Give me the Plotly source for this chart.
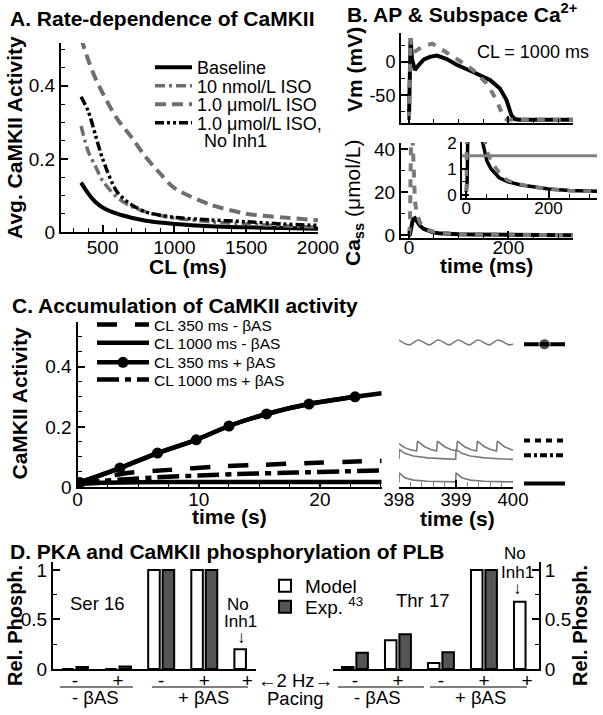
import plotly.graph_objects as go

# ======================= DATA =======================
# Panel A : rate dependence of average CaMKII activity
cl_ms = [350, 400, 450, 500, 600, 700, 800, 900, 1000, 1250, 1500, 1750, 2000]
act_baseline = [0.135, 0.105, 0.082, 0.067, 0.050, 0.039, 0.031, 0.026, 0.022, 0.016, 0.013, 0.011, 0.009]
act_iso_10n = [0.29, 0.22, 0.18, 0.14, 0.095, 0.07, 0.055, 0.045, 0.038, 0.028, 0.022, 0.017, 0.013]
act_iso_1u = [0.53, 0.47, 0.42, 0.38, 0.31, 0.26, 0.205, 0.16, 0.12, 0.075, 0.05, 0.04, 0.032]
act_iso_1u_noinh1 = [0.37, 0.33, 0.265, 0.20, 0.11, 0.075, 0.055, 0.046, 0.04, 0.033, 0.028, 0.022, 0.018]
names_a = ["Baseline", "10 nmol/L ISO", "1.0 μmol/L ISO", "1.0 μmol/L ISO,"]
name_a_line2 = " No Inh1"

# Panel B : AP and subspace Ca (CL = 1000 ms)
t_vm_base = [0, 2, 3.3, 6, 12, 20, 30, 42, 56, 75, 96, 129, 163, 183, 196, 206, 213, 222, 330]
vm_base = [-87, 0, 36, 5, -12, -4, 4, 8, 10, 5, -4, -15, -27, -40, -57, -80, -86, -87, -87]
t_vm_iso = [0, 2, 3.3, 6, 10, 20, 32, 47, 70, 96, 129, 156, 176, 190, 197, 330]
vm_iso = [-87, 0, 36, 22, 15, 20, 25, 28, 18, 5, -12, -32, -57, -83, -87, -87]
t_ca = [0, 2, 5, 8, 12, 16, 22, 30, 40, 50, 60, 80, 100, 130, 160, 200, 250, 330]
ca_base = [0.1, 0.5, 4, 7.5, 8, 6.5, 4.5, 3, 2, 1.3, 1.0, 0.65, 0.5, 0.38, 0.3, 0.22, 0.16, 0.12]
ca_iso = [0.1, 5, 60, 35, 16, 10, 6, 3.8, 2.4, 1.7, 1.3, 0.85, 0.55, 0.4, 0.3, 0.22, 0.16, 0.12]
inset_level = 1.5
cl_label = "CL = 1000 ms"

# Panel C : accumulation of CaMKII activity
t_350_plus = [0, 0.2, 3.5, 6.6, 9.8, 12.5, 15.6, 19.1, 22.9, 25.1]
act_350_plus = [0.012, 0.015, 0.063, 0.113, 0.157, 0.203, 0.243, 0.276, 0.300, 0.312]
t_350_minus = [0, 1, 2, 4, 7.6, 11.5, 15.3, 19.2, 23, 25.1]
act_350_minus = [0.012, 0.022, 0.031, 0.046, 0.057, 0.068, 0.074, 0.080, 0.085, 0.087]
t_1000_plus = [0, 2, 4, 7, 10, 14, 18, 22, 25.1]
act_1000_plus = [0.012, 0.02, 0.026, 0.033, 0.038, 0.044, 0.048, 0.052, 0.055]
t_1000_minus = [0, 2, 5, 10, 15, 20, 25.1]
act_1000_minus = [0.010, 0.014, 0.016, 0.017, 0.017, 0.017, 0.017]
names_c = ["CL 350 ms - βAS", "CL 1000 ms - βAS", "CL 350 ms + βAS", "CL 1000 ms + βAS"]

t_ss_350_plus = [398.00, 398.18, 398.34, 398.53, 398.69, 398.88, 399.04, 399.23, 399.39, 399.58, 399.74, 399.93, 400.00]
act_ss_350_plus = [0.489, 0.473, 0.489, 0.473, 0.489, 0.473, 0.489, 0.473, 0.489, 0.473, 0.489, 0.473, 0.476]
t_ss_350_minus = [398.00, 398.10, 398.20, 398.31, 398.325, 398.45, 398.56, 398.66, 398.675, 398.80, 398.91,
                  399.01, 399.025, 399.15, 399.26, 399.36, 399.375, 399.50, 399.61, 399.71, 399.725, 399.85, 400.00]
act_ss_350_minus = [0.144, 0.131, 0.124, 0.120, 0.153, 0.134, 0.125, 0.120, 0.153, 0.134, 0.125,
                    0.120, 0.153, 0.134, 0.125, 0.120, 0.153, 0.134, 0.125, 0.120, 0.153, 0.134, 0.122]
t_ss_1000 = [398.00, 398.005, 398.10, 398.25, 398.50, 398.75, 398.995, 399.00, 399.10, 399.25, 399.50, 399.75, 400.00]
act_ss_1000_plus = [0.093, 0.125, 0.112, 0.103, 0.097, 0.094, 0.092, 0.125, 0.112, 0.103, 0.097, 0.094, 0.092]
act_ss_1000_minus = [0.015, 0.047, 0.031, 0.023, 0.019, 0.018, 0.017, 0.047, 0.031, 0.023, 0.019, 0.018, 0.017]
# steady-state key levels: 350+, 350-, 1000+, 1000-
ss_levels = [0.475, 0.155, 0.106, 0.012]

# Panel D : PLB phosphorylation
cat_pos = [0, 1, 2, 3, 4]
pacing_labels = ["-", "+", "-", "+", "+"]
ser16_model = [0.0, 0.0, 1.0, 1.0, 0.2]
ser16_exp = [0.02, 0.025, 1.0, 1.0, None]
thr17_model = [0.02, 0.29, 0.06, 1.0, 0.68]
thr17_exp = [0.165, 0.35, 0.17, 1.0, None]

# ======================= HELPERS =======================
W, H = 603, 715
FONT = "Liberation Sans, Arial, sans-serif"
GRAY = "#6e6e6e"
GRAYB = "#7a7a7a"
EXPC = "#555555"


def px(x):
    return x / W


def py(y):
    return 1 - y / H


def ax(**kw):
    d = dict(showline=True, linecolor="black", linewidth=2, ticks="inside", ticklen=7,
             tickwidth=1.5, tickcolor="black", showgrid=False, zeroline=False, automargin=False,
             tickfont=dict(size=19, family=FONT, color="black"))
    d.update(kw)
    return d


def minor(dt, ln=4):
    return dict(ticks="inside", ticklen=ln, tickwidth=1, tickcolor="black", dtick=dt, tick0=0, showgrid=False)


fig = go.Figure()

# ---------------- Panel A ----------------
a_series = [act_baseline, act_iso_10n, act_iso_1u, act_iso_1u_noinh1]
a_lines = [dict(color="black", width=4),
           dict(color=GRAY, width=3.5, dash="10px,4px,3px,4px"),
           dict(color=GRAY, width=4, dash="11px,6px"),
           dict(color="black", width=3.5, dash="9px,3px,3px,3px,3px,3px")]
for i, (ys, nm, ln) in enumerate(zip(a_series, names_a, a_lines)):
    fig.add_trace(go.Scatter(x=cl_ms, y=ys, name=nm, mode="lines",
                             line=dict(shape="spline", smoothing=0.8, **ln),
                             xaxis="x", yaxis="y", legend="legend" if i == 0 else f"legend{i+1}"))

# ---------------- Panel B ----------------
fig.add_trace(go.Scatter(x=t_vm_base, y=vm_base, mode="lines", line=dict(color="black", width=4),
                         xaxis="x2", yaxis="y2", showlegend=False))
fig.add_trace(go.Scatter(x=t_vm_iso, y=vm_iso, mode="lines", line=dict(color=GRAYB, width=4, dash="8px,8px"),
                         xaxis="x2", yaxis="y2", showlegend=False))
for xa, ya, w in [("x3", "y3", 4), ("x4", "y4", 3.5)]:
    fig.add_trace(go.Scatter(x=t_ca, y=ca_base, mode="lines", line=dict(color="black", width=w),
                             xaxis=xa, yaxis=ya, showlegend=False))
    fig.add_trace(go.Scatter(x=t_ca, y=ca_iso, mode="lines", line=dict(color=GRAYB, width=w, dash="8px,8px"),
                             xaxis=xa, yaxis=ya, showlegend=False))

# ---------------- Panel C ----------------
c_specs = [
    (t_350_minus, act_350_minus, dict(color="black", width=4.5, dash="20px,18px")),
    (t_1000_minus, act_1000_minus, dict(color="black", width=4.5)),
    (t_350_plus, act_350_plus, dict(color="black", width=4.5)),
    (t_1000_plus, act_1000_plus, dict(color="black", width=4.5, dash="22px,6px,6px,6px")),
]
for i, (tx, ys, ln) in enumerate(c_specs):
    fig.add_trace(go.Scatter(x=tx, y=ys, mode="lines", line=dict(shape="spline", smoothing=0.6, **ln),
                             xaxis="x5", yaxis="y5", showlegend=False))
    if i == 2:
        fig.add_trace(go.Scatter(x=tx[1:-1], y=ys[1:-1], name=names_c[i], mode="lines+markers",
                                 line=dict(shape="spline", smoothing=0.6, **ln),
                                 marker=dict(size=11, color="black"),
                                 xaxis="x5", yaxis="y5", legend=f"legend{5+i}"))
    else:
        fig.add_trace(go.Scatter(x=[None], y=[None], name=names_c[i], mode="lines", line=ln,
                                 xaxis="x5", yaxis="y5", legend=f"legend{5+i}"))

for tx, ys in [(t_ss_350_plus, act_ss_350_plus), (t_ss_350_minus, act_ss_350_minus),
               (t_ss_1000, act_ss_1000_plus), (t_ss_1000, act_ss_1000_minus)]:
    fig.add_trace(go.Scatter(x=tx, y=ys, mode="lines",
                             line=dict(color=GRAYB, width=1.6,
                                       shape="spline" if tx is t_ss_350_plus else "linear"),
                             xaxis="x6", yaxis="y5", showlegend=False))

key_dashes = ["solid", "6px,5px", "7px,3px,3px,3px", "solid"]
for i, (lvl, dsh) in enumerate(zip(ss_levels, key_dashes)):
    fig.add_trace(go.Scatter(x=[0, 0.5, 1], y=[lvl, lvl, lvl], mode="lines+markers" if i == 0 else "lines",
                             line=dict(color="black", width=4, dash=dsh),
                             marker=dict(size=[0, 11, 0], color="black"),
                             xaxis="x7", yaxis="y5", showlegend=False))

# ---------------- Panel D ----------------
for xa, ya, mdl, exp in [("x8", "y8", ser16_model, ser16_exp), ("x9", "y9", thr17_model, thr17_exp)]:
    first = xa == "x8"
    fig.add_trace(go.Bar(x=cat_pos, y=mdl, name="Model", marker=dict(color="white", line=dict(color="black", width=2)),
                         xaxis=xa, yaxis=ya, showlegend=first, legend="legend9"))
    fig.add_trace(go.Bar(x=cat_pos, y=exp, name="Exp. <sup>43</sup>", marker=dict(color=EXPC, line=dict(color="black", width=2)),
                         xaxis=xa, yaxis=ya, showlegend=first, legend="legend10"))

# ======================= LAYOUT =======================
ann = []


def text(t, x, y, size, xanchor="center", angle=0):
    ann.append(dict(text=t, x=px(x), y=py(y), xref="paper", yref="paper", showarrow=False,
                    xanchor=xanchor, yanchor="middle", textangle=angle,
                    font=dict(size=size, family=FONT, color="black")))


# titles
text("<b>A. Rate-dependence of CaMKII</b>", 8, 18.5, 21, "left")
text("<b>B. AP &amp; Subspace Ca<sup>2+</sup></b>", 345, 13, 21, "left")
text("<b>C. Accumulation of CaMKII activity</b>", 10, 305, 21, "left")
text("<b>D. PKA and CaMKII phosphorylation of PLB</b>", 8, 551, 21, "left")
# A
text("<b>CL (ms)</b>", 188, 266, 21)
text("<b>Avg. CaMKII Activity</b>", 14.5, 137.5, 21, angle=-90)
text(name_a_line2, 197, 140.5, 18, "left")
# B
text(cl_label, 533, 52, 18)
text("<b>Vm (mV)</b>", 354, 70, 21, angle=-90)
text("<b>Ca<sub>ss</sub></b> (μmol/L)", 354, 203, 21, angle=-90)
text("<b>time (ms)</b>", 486, 265.5, 21)
# C
text("<b>CaMKII Activity</b>", 18.5, 404, 21, angle=-90)
text("<b>time (s)</b>", 229, 516, 21)
text("<b>time (s)</b>", 457, 518.5, 21)
# D
text("<b>Rel. Phosph.</b>", 15, 626, 20, angle=-90)
text("<b>Rel. Phosph.</b>", 580, 626, 20, angle=-90)
text("Ser 16", 97, 603, 18.5)
text("Thr 17", 422, 600, 18.5)
text("No", 238, 604, 17)
text("Inh1", 240, 621, 17)
text("↓", 241, 637, 17)
text("No", 515, 553, 17)
text("Inh1", 517, 572, 17)
text("↓", 517, 588, 17)
text("←2 Hz→", 295, 680, 18.5)
text("Pacing", 295, 698, 18.5)
text("- βAS", 95, 697, 18.5)
text("+ βAS", 203, 697, 18.5)
text("- βAS", 377, 697, 18.5)
text("+ βAS", 480, 697, 18.5)

shapes = []
for x0, x1 in [(60, 133), (152, 248), (338, 424), (430, 527)]:
    shapes.append(dict(type="line", xref="paper", yref="paper", x0=px(x0), x1=px(x1), y0=py(687), y1=py(687),
                       line=dict(color="black", width=1)))
shapes.append(dict(type="line", xref="x4 domain", yref="y4", x0=0, x1=1, y0=inset_level, y1=inset_level,
                   line=dict(color="#808080", width=3)))


def leg(x, y, size, iw=30):
    return dict(x=px(x), y=py(y), xanchor="left", yanchor="middle", xref="paper", yref="paper",
                bgcolor="rgba(0,0,0,0)", borderwidth=0, itemwidth=iw,
                font=dict(size=size, family=FONT, color="black"), tracegroupgap=0)


layout = dict(
    template="none",
    width=W, height=H, margin=dict(l=0, r=0, t=0, b=0, pad=0, autoexpand=False),
    paper_bgcolor="white", plot_bgcolor="rgba(0,0,0,0)",
    font=dict(family=FONT, color="black"), barmode="group", bargap=0.33, bargroupgap=0.2,
    annotations=ann, shapes=shapes,
    # A
    xaxis=ax(domain=[px(61), px(318)], range=[210, 2000], dtick=500, tick0=0, minor=minor(100),
             ticklabelstandoff=-3, anchor="y"),
    yaxis=ax(domain=[py(232), py(43)], range=[0, 0.517], dtick=0.2, tick0=0, minor=minor(0.05), anchor="x"),
    # B Vm
    xaxis2=ax(domain=[px(401), px(573)], range=[-16, 330], dtick=200, tick0=0, minor=minor(50),
              showticklabels=False, anchor="y2"),
    yaxis2=ax(domain=[py(123), py(33)], range=[-92, 44], tickmode="array", tickvals=[-50, 0], ticktext=["-50", "0"],
              minor=dict(ticks="inside", ticklen=4, tickwidth=1, tickcolor="black", tickmode="linear", tick0=0, dtick=25),
              tickfont=dict(size=18, family=FONT, color="black"), anchor="x2"),
    # B Ca
    xaxis3=ax(domain=[px(401), px(573)], range=[-16, 330], dtick=200, tick0=0, minor=minor(50),
              ticklabelstandoff=-9, anchor="y3"),
    yaxis3=ax(domain=[py(238), py(143)], range=[-1.2, 43], dtick=20, tick0=0, minor=minor(10), anchor="x3"),
    # B inset
    xaxis4=ax(domain=[px(462), px(597)], range=[-10.5, 318], dtick=200, tick0=0, minor=minor(50),
              ticklabelstandoff=-6, tickfont=dict(size=17, family=FONT, color="black"), anchor="y4"),
    yaxis4=ax(domain=[py(198), py(142)], range=[-0.13, 2.03], dtick=1, tick0=0, minor=minor(0.5),
              tickfont=dict(size=17, family=FONT, color="black"), anchor="x4"),
    # C
    xaxis5=ax(domain=[px(77.5), px(381.7)], range=[0, 25.1], dtick=10, tick0=0, minor=minor(2.5),
              ticklabelstandoff=-6, anchor="y5"),
    yaxis5=ax(domain=[py(487), py(321.7)], range=[0, 0.55], dtick=0.2, tick0=0, minor=minor(0.05), anchor="x5"),
    xaxis6=ax(domain=[px(399), px(513)], range=[398, 400], dtick=1, tick0=398, ticklabelstandoff=-5,
              minor=dict(ticks="inside", ticklen=5, tickwidth=1, tickcolor="#888888", dtick=0.2, tick0=398),
              tickfont=dict(size=18.5, family=FONT, color="black"), anchor="y5"),
    xaxis7=dict(domain=[px(524), px(565)], range=[0, 1], visible=False, anchor="y5"),
    # D
    xaxis8=ax(domain=[px(53), px(256)], range=[-0.51, 4.2], tickmode="array", tickvals=cat_pos,
              ticktext=pacing_labels, ticks="", ticklabelstandoff=-7, anchor="y8"),
    yaxis8=ax(domain=[py(669), py(562)], range=[0, 1.08], tickmode="array", tickvals=[0, 0.5, 1],
              ticktext=["0", "0.5", "1"],
              minor=dict(ticks="inside", ticklen=4, tickwidth=1, tickcolor="black", tickmode="linear", tick0=0, dtick=0.25),
              anchor="x8"),
    xaxis9=ax(domain=[px(333), px(539)], range=[-0.51, 4.28], tickmode="array", tickvals=cat_pos,
              ticktext=pacing_labels, ticks="", ticklabelstandoff=-7, anchor="y9"),
    yaxis9=ax(domain=[py(669), py(562)], range=[0, 1.08], tickmode="array", tickvals=[0, 0.5, 1],
              ticktext=["0", "0.5", "1"], side="right",
              minor=dict(ticks="inside", ticklen=4, tickwidth=1, tickcolor="black", tickmode="linear", tick0=0, dtick=0.25),
              anchor="x9"),
    # legends
    legend=leg(150, 67.5, 18, 37),
    legend2=leg(150, 86, 18, 37),
    legend3=leg(150, 104.5, 18, 37),
    legend4=leg(150, 123, 18, 37),
    legend5=leg(92, 325, 15.5, 52),
    legend6=leg(92, 343.3, 15.5, 52),
    legend7=leg(92, 362.7, 15.5, 52),
    legend8=leg(92, 380, 15.5, 52),
    legend9=leg(265, 586, 19, 30),
    legend10=leg(265, 607, 19, 30),
)
fig.update_layout(**layout)
fig.write_html("out.html", config={"displayModeBar": False},
               post_script="document.body.style.margin='0px';")
